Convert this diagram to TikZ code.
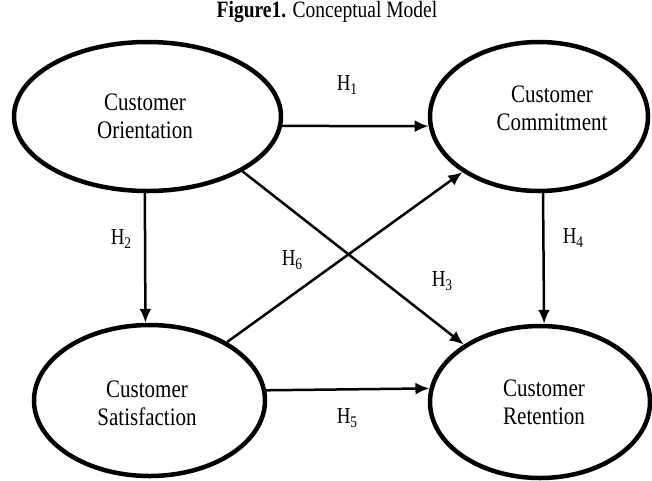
\documentclass[tikz,border=0pt]{standalone}
\usepackage{fontspec}
\setmainfont{Liberation Serif}
\usetikzlibrary{shapes.geometric,arrows.meta}
\newcommand{\stt}[1]{\scalebox{1}[1.2]{#1}}
\newcommand{\hsub}[1]{\stt{H\raisebox{-3.5pt}{\fontsize{13.5}{14}\selectfont #1}}}
\begin{document}
\begin{tikzpicture}[x=1pt,y=-1pt,
  ell/.style={ellipse,draw,line width=4.5pt,inner sep=0pt},
  conn/.style={line width=2.5pt,-{Latex[length=14pt,width=12pt]}},
  txt/.style={font=\fontsize{21}{28}\selectfont,align=center,inner sep=0pt},
  hl/.style={font=\fontsize{19}{24}\selectfont,inner sep=0pt}]
\useasboundingbox[fill=white] (0,0) rectangle (652,480);
\node[inner sep=0pt,font=\fontsize{19.5}{24}\selectfont] (title) at (327,12) {\stt{\textbf{Figure1.} Conceptual Model}};
\node[ell,minimum width=267pt,minimum height=149pt] (O) at (147.5,116.5) {};
\node[ell,minimum width=218pt,minimum height=149pt] (Cm) at (539,116.5) {};
\node[ell,minimum width=231pt,minimum height=151pt] (S) at (149.5,400.5) {};
\node[ell,minimum width=220pt,minimum height=152pt] (R) at (540,402) {};
\node[txt] (Ot) at (145,116) {\stt{Customer}\\\stt{Orientation}};
\node[txt] (Cmt) at (552,108.5) {\stt{Customer}\\\stt{Commitment}};
\node[txt] (St) at (147,403) {\stt{Customer}\\\stt{Satisfaction}};
\node[txt] (Rt) at (544,402) {\stt{Customer}\\\stt{Retention}};
\draw[conn] (O.-4.5) -- (Cm.185.5);
\draw[conn] (O.-92) -- (S.93.3);
\draw[conn] (O.-30.2) -- (R.143);
\draw[conn] (S.37.4) -- (Cm.216.6);
\draw[conn] (Cm.-87) -- (R.87.8);
\draw[conn] (S.5.2) -- (R.173.8);
\node[hl] (h1) at (347,85) {\hsub{1}};
\node[hl] (h2) at (121,239) {\hsub{2}};
\node[hl] (h3) at (442,281) {\hsub{3}};
\node[hl] (h4) at (573,238) {\hsub{4}};
\node[hl] (h5) at (347,418) {\hsub{5}};
\node[hl] (h6) at (292,260) {\hsub{6}};
\end{tikzpicture}
\end{document}
